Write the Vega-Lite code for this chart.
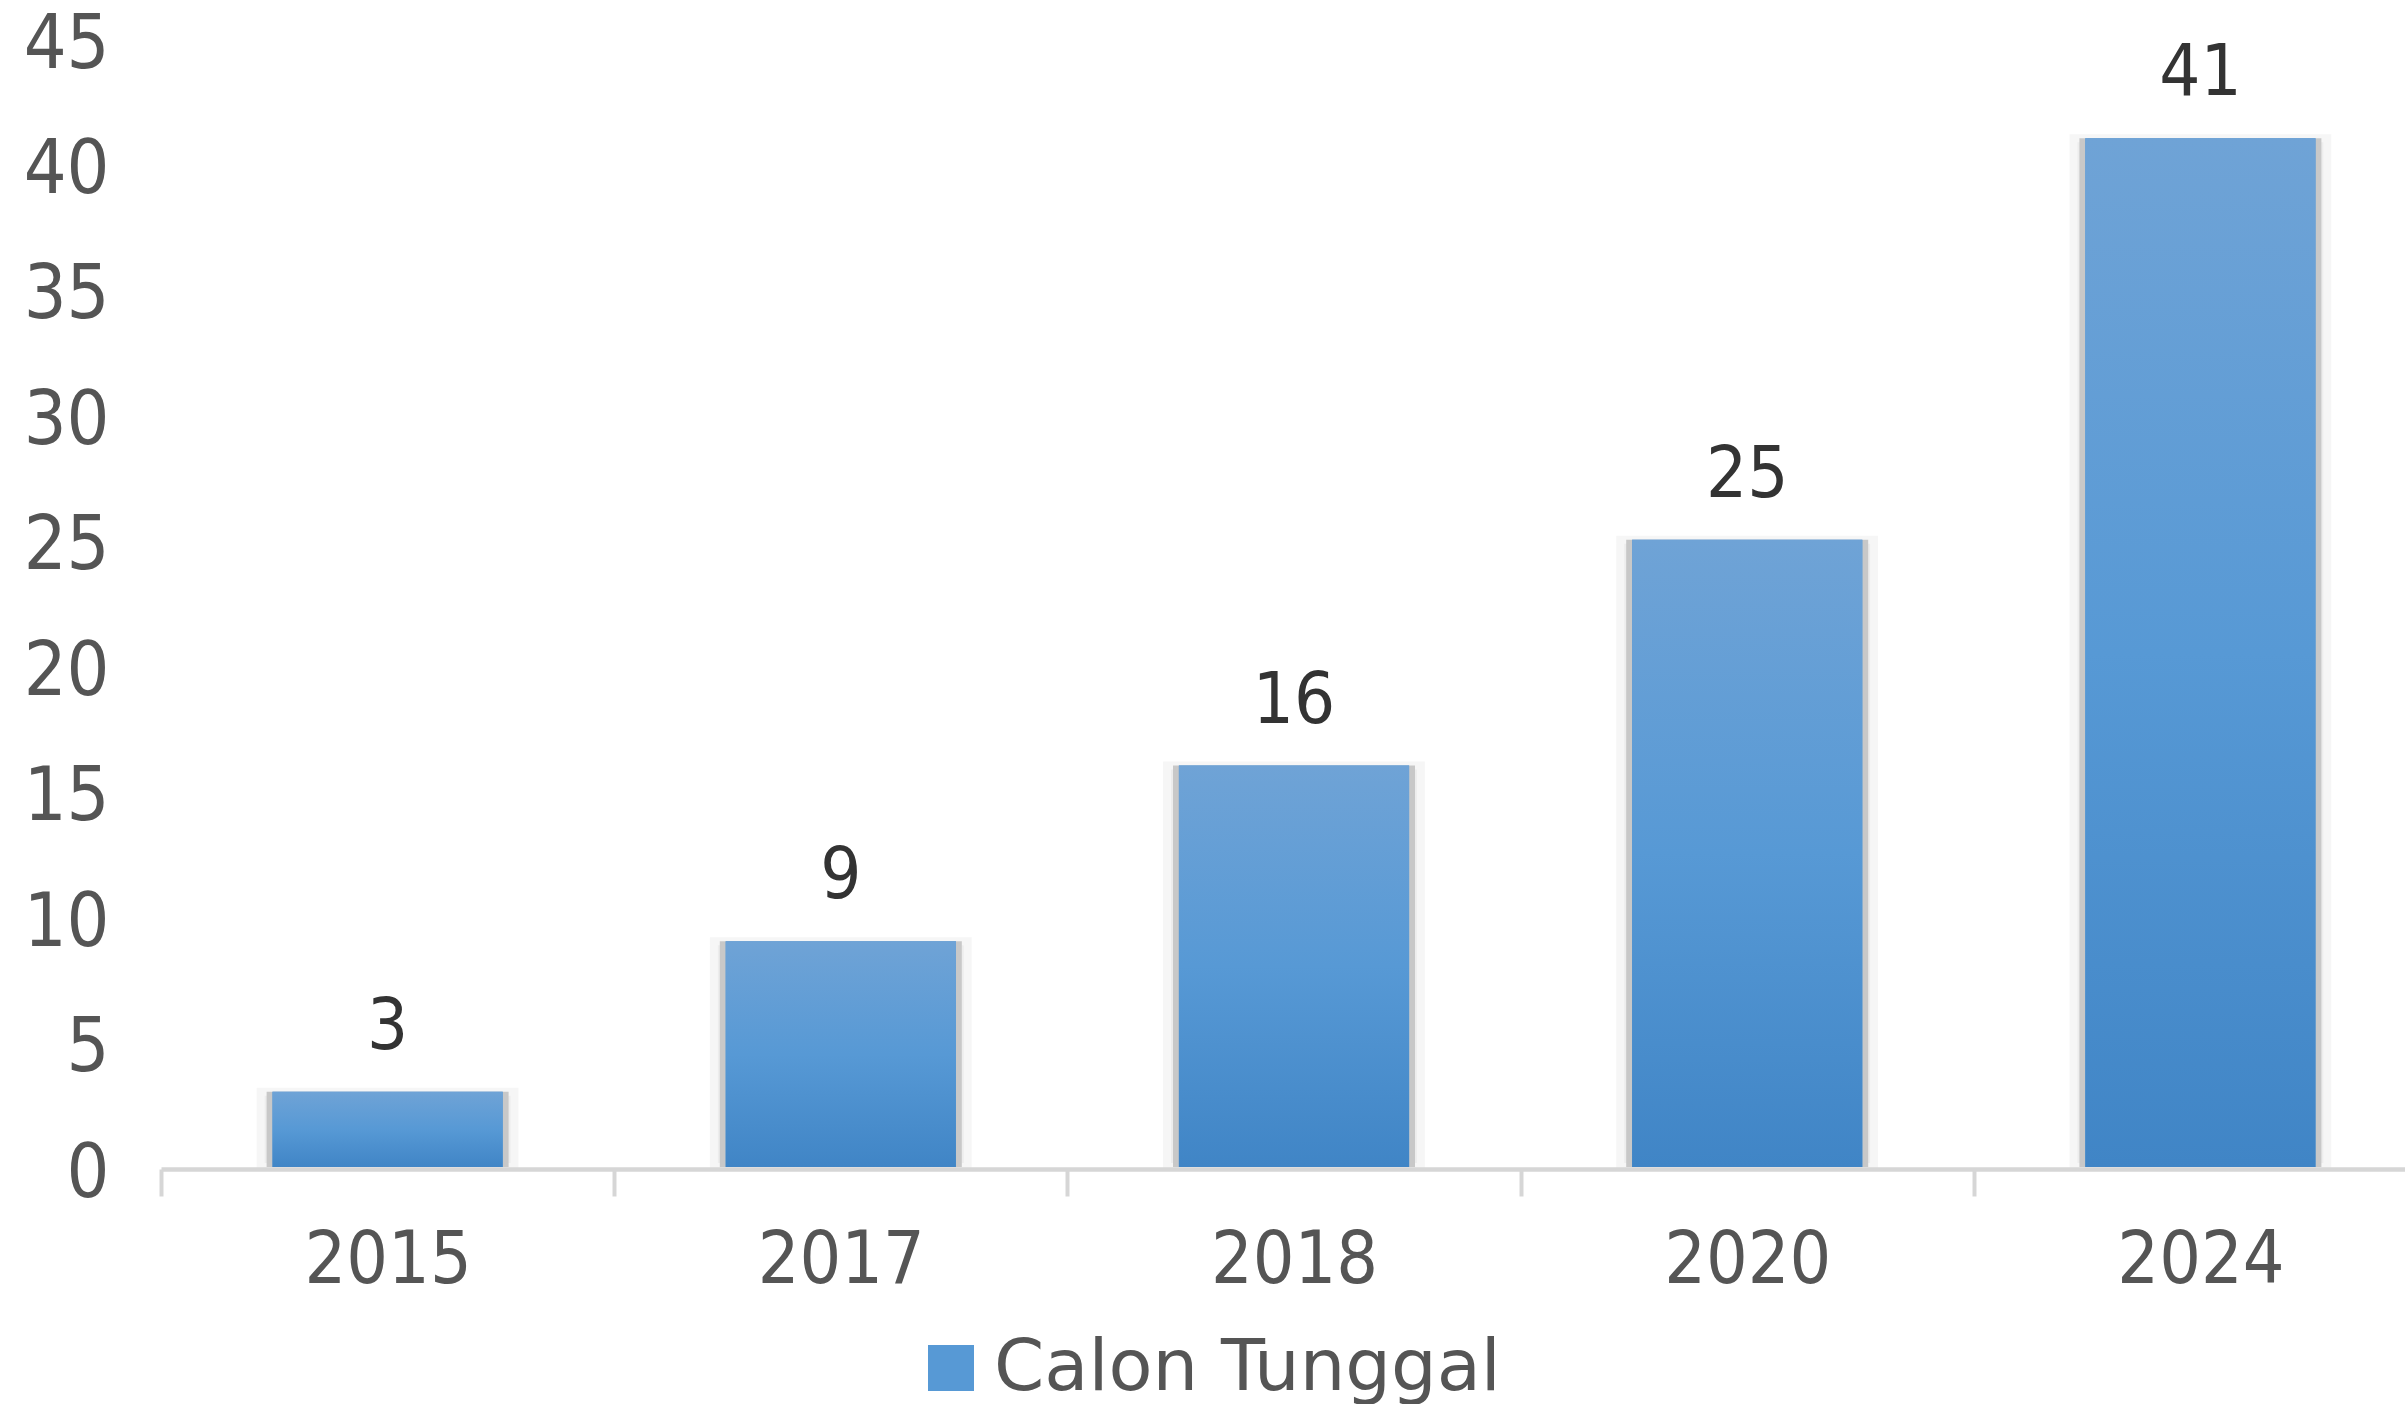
{
  "$schema": "https://vega.github.io/schema/vega-lite/v6.json",
  "width": 2244,
  "height": 1129,
  "autosize": {"type": "none"},
  "padding": {"left": 161, "top": 38, "right": 0, "bottom": 237},
  "background": "white",
  "config": {"view": {"stroke": null}, "font": "DejaVu Sans Condensed"},
  "data": {
    "values": [
      {"year": "2015", "value": 3, "series": "Calon Tunggal"},
      {"year": "2017", "value": 9, "series": "Calon Tunggal"},
      {"year": "2018", "value": 16, "series": "Calon Tunggal"},
      {"year": "2020", "value": 25, "series": "Calon Tunggal"},
      {"year": "2024", "value": 41, "series": "Calon Tunggal"}
    ]
  },
  "encoding": {
    "x": {
      "field": "year",
      "type": "ordinal",
      "sort": null,
      "scale": {"range": [0, 2266], "paddingInner": 0, "paddingOuter": 0},
      "axis": {
        "title": null,
        "labelAngle": 0,
        "grid": false,
        "domainColor": "#d6d6d6",
        "domainWidth": 4.5,
        "tickColor": "#d6d6d6",
        "tickWidth": 4,
        "tickSize": 27,
        "tickBand": "extent",
        "labelFontSize": 73,
        "labelColor": "#555555",
        "labelFont": "DejaVu Sans Condensed",
        "labelPadding": 28,
        "offset": 2,
        "zindex": 1
      }
    },
    "y": {
      "field": "value",
      "type": "quantitative",
      "scale": {"domain": [0, 45], "nice": false, "zero": true},
      "axis": {
        "title": null,
        "domain": false,
        "ticks": false,
        "grid": false,
        "values": [0, 5, 10, 15, 20, 25, 30, 35, 40, 45],
        "labelFontSize": 75,
        "labelColor": "#555555",
        "labelFont": "DejaVu Sans Condensed",
        "labelPadding": 52,
        "labelOffset": 6,
        "labelFlush": false
      }
    }
  },
  "layer": [
    {
      "mark": {"type": "bar", "width": {"band": 0.56}, "fill": "#ededed", "stroke": "#f6f6f6", "strokeWidth": 8}
    },
    {
      "mark": {"type": "bar", "width": {"band": 0.534}, "fill": "#c8c8c8"}
    },
    {
      "mark": {"type": "bar", "width": {"band": 0.508}},
      "encoding": {
        "color": {
          "field": "series",
          "type": "nominal",
          "scale": {"range": ["#5799d5"]},
          "legend": {
            "orient": "none",
            "legendX": 754,
            "legendY": 1294,
            "title": null,
            "padding": 0,
            "symbolType": "square",
            "symbolSize": 2116,
            "symbolStrokeWidth": 0,
            "labelFontSize": 72,
            "labelColor": "#555555",
            "labelFont": "DejaVu Sans",
            "labelOffset": 7,
            "labelLimit": 1000
          }
        }
      }
    },
    {
      "mark": {
        "type": "bar",
        "width": {"band": 0.508},
        "fill": {
          "gradient": "linear",
          "x1": 0, "y1": 0, "x2": 0, "y2": 1,
          "stops": [
            {"offset": 0, "color": "#6fa3d6"},
            {"offset": 0.5, "color": "#5799d5"},
            {"offset": 1, "color": "#4085c6"}
          ]
        }
      }
    },
    {
      "mark": {"type": "text", "dy": -43, "baseline": "alphabetic", "fontSize": 72, "color": "#333333", "font": "DejaVu Sans Condensed"},
      "encoding": {"text": {"field": "value", "type": "quantitative"}}
    }
  ]
}
